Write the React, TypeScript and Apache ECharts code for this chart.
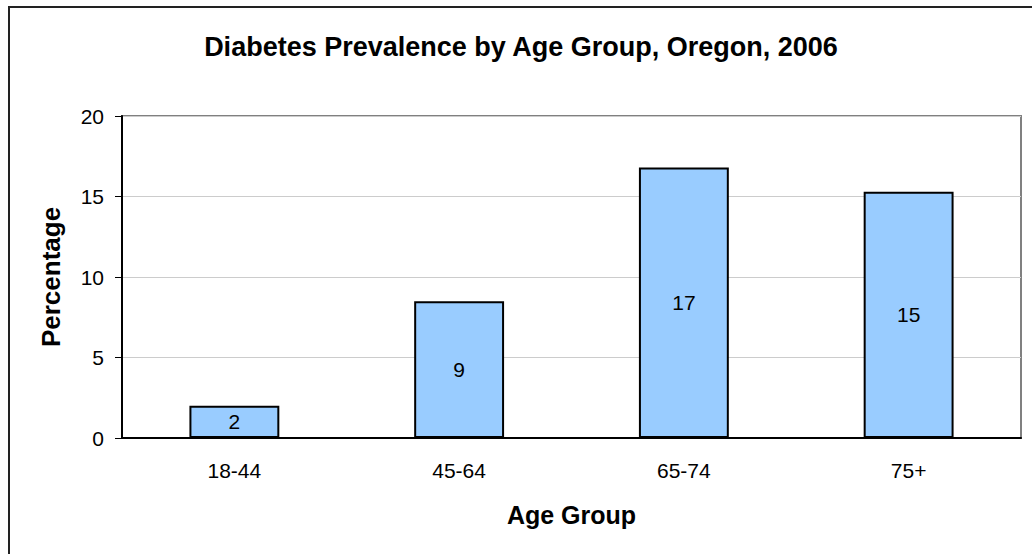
import React, { useEffect, useRef } from "react";
import * as echarts from "echarts";

const categories = ["18-44", "45-64", "65-74", "75+"];
const prevalence = [2.0, 8.5, 16.8, 15.3];
const titleText = "Diabetes Prevalence by Age Group, Oregon, 2006";
const yAxisName = "Percentage";
const xAxisName = "Age Group";

const FONT = "'Liberation Sans', Arial, sans-serif";

export default function App() {
  const ref = useRef<HTMLDivElement>(null);
  useEffect(() => {
    if (!ref.current) return;
    const chart = echarts.init(ref.current, null, { renderer: "svg" });
    chart.setOption({
      animation: false,
      backgroundColor: "#ffffff",
      textStyle: { fontFamily: FONT },
      title: {
        text: titleText,
        left: "center",
        top: 20,
        textStyle: { fontFamily: FONT, fontSize: 27, fontWeight: "bold", color: "#000" },
      },
      grid: {
        left: 112,
        right: 11,
        top: 108,
        bottom: 116,
        show: true,
        borderColor: "#808080",
        borderWidth: 2,
        backgroundColor: "#ffffff",
      },
      xAxis: {
        type: "category",
        data: categories,
        name: xAxisName,
        nameLocation: "middle",
        nameGap: 64,
        nameTextStyle: { fontFamily: FONT, fontSize: 25, fontWeight: "bold", color: "#000" },
        axisLine: { lineStyle: { color: "#000", width: 2 } },
        axisTick: { show: false },
        axisLabel: { fontFamily: FONT, fontSize: 21, color: "#000", margin: 22 },
      },
      yAxis: {
        type: "value",
        min: 0,
        max: 20,
        interval: 5,
        name: yAxisName,
        nameLocation: "middle",
        nameGap: 58,
        nameTextStyle: { fontFamily: FONT, fontSize: 26, fontWeight: "bold", color: "#000" },
        axisLine: { show: true, lineStyle: { color: "#000", width: 2 } },
        axisTick: { show: true, length: 7, lineStyle: { color: "#000", width: 1 } },
        axisLabel: { fontFamily: FONT, fontSize: 21, color: "#000", margin: 18 },
        splitLine: { show: true, lineStyle: { color: "#cccccc", width: 1 } },
      },
      series: [
        {
          type: "bar",
          data: prevalence,
          barWidth: "40%",
          itemStyle: { color: "#99CCFF", borderColor: "#000", borderWidth: 2 },
          label: {
            show: true,
            position: "inside",
            fontFamily: FONT,
            fontSize: 21,
            color: "#000",
            formatter: (p: any) => String(Math.round(p.value)),
          },
        },
      ],
    });
    return () => chart.dispose();
  }, []);
  return (
    <div
      style={{
        position: "fixed",
        left: 8,
        top: 6,
        width: 1040,
        height: 560,
        border: "2px solid #222",
        boxSizing: "border-box",
        background: "#fff",
      }}
    >
      <div ref={ref} style={{ width: 1022, height: 546 }} />
    </div>
  );
}
